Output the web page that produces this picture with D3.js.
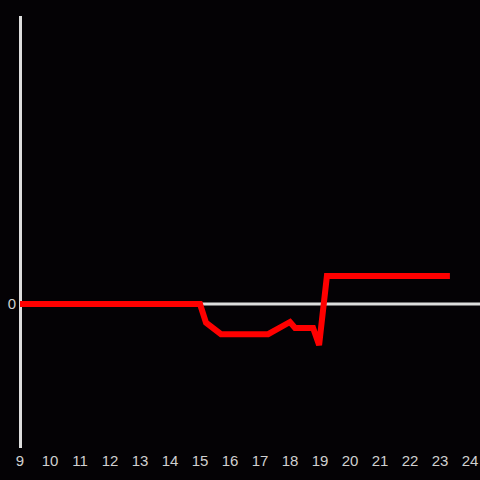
<!DOCTYPE html>
<html>
<head>
<meta charset="utf-8">
<script src="https://cdn.jsdelivr.net/npm/d3@7"></script>
<style>
  html, body { margin: 0; padding: 0; background: #040205; }
  svg { display: block; }
</style>
</head>
<body>
<div id="chart"></div>
<script>
const hours = [9, 15, 15.2, 15.7, 17.27, 18, 18.17, 18.77, 18.97, 19.23, 23.33];
const values = [0, 0, -0.13, -0.21, -0.21, -0.125, -0.167, -0.167, -0.285, 0.194, 0.194];
const xTicks = d3.range(9, 25);
const yTicks = [0];

const w = 480, h = 480;

const x = d3.scaleLinear().domain([9, 24]).range([20, 470]);
const y = d3.scaleLinear().domain([-1, 2]).range([448, 16]);

const svg = d3.select("#chart")
    .append("svg")
    .attr("width", w)
    .attr("height", h);

svg.append("rect")
    .attr("width", w)
    .attr("height", h)
    .attr("fill", "#040205");

// zero line
svg.append("line")
    .attr("x1", x(9))
    .attr("x2", w)
    .attr("y1", y(0))
    .attr("y2", y(0))
    .attr("stroke", "#dddddd")
    .attr("stroke-width", 3);

// y axis line
svg.append("line")
    .attr("x1", x(9) + 0.5)
    .attr("x2", x(9) + 0.5)
    .attr("y1", y(2))
    .attr("y2", y(-1))
    .attr("stroke", "#dddddd")
    .attr("stroke-width", 3);

svg.append("g")
    .selectAll("text")
    .data(xTicks)
    .enter()
    .append("text")
    .attr("x", d => x(d))
    .attr("y", 461)
    .attr("dy", "0.35em")
    .attr("text-anchor", "middle")
    .attr("fill", "#d0d0d0")
    .style("font", "15px 'Liberation Sans', Arial, sans-serif")
    .text(d => d);

svg.append("g")
    .selectAll("text")
    .data(yTicks)
    .enter()
    .append("text")
    .attr("x", 16)
    .attr("y", d => y(d))
    .attr("dy", "0.35em")
    .attr("text-anchor", "end")
    .attr("fill", "#d0d0d0")
    .style("font", "15px 'Liberation Sans', Arial, sans-serif")
    .text(d => d);

const line = d3.line()
    .x((d, i) => x(hours[i]))
    .y(d => y(d));

svg.append("path")
    .datum(values)
    .attr("d", line)
    .attr("fill", "none")
    .attr("stroke", "#ff0000")
    .attr("stroke-width", 6)
    .attr("stroke-linejoin", "miter");
</script>
</body>
</html>
